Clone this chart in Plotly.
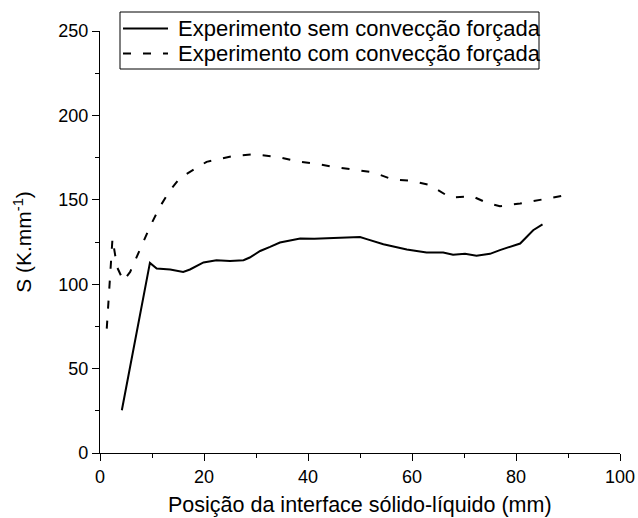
import plotly.graph_objects as go

# Data
x_sem = [4.2, 9.6, 10.9, 13.5, 16.0, 17.3, 19.9, 22.4, 25.0, 27.6, 28.8, 30.8, 32.7, 34.6,
         38.5, 41.2, 44.9, 50.0, 51.3, 54.5, 59.0, 62.8, 66.0, 67.9, 70.2, 72.4, 75.0,
         76.9, 80.8, 83.3, 85.1]
y_sem = [25.3, 112.6, 109.3, 108.7, 107.3, 108.7, 112.9, 114.2, 113.8, 114.2, 115.8, 119.7,
         122.1, 124.7, 127.1, 126.9, 127.4, 128.0, 126.7, 123.7, 120.6, 118.8, 118.8, 117.4,
         118.0, 116.8, 118.0, 120.2, 124.1, 132.0, 135.4]

x_com = [1.3, 2.4, 3.3, 4.5, 5.8, 7.7, 9.6, 11.5, 13.5, 15.4, 20.5, 25.6, 29.5, 34.0, 38.5,
         42.3, 44.9, 48.7, 52.6, 56.1, 59.9, 63.5, 67.3, 70.5, 71.5, 74.4, 76.9, 80.8, 85.3, 89.7]
y_com = [73.7, 127.0, 110.0, 102.0, 107.3, 121.0, 134.0, 145.8, 155.7, 163.0, 172.5, 175.9,
         176.9, 175.5, 172.5, 171.0, 169.5, 168.0, 166.2, 162.2, 161.2, 158.7, 151.4, 151.8,
         152.2, 148.2, 146.2, 147.8, 150.4, 152.8]

names = ["Experimento sem convecção forçada", "Experimento com convecção forçada"]
dashes = ["solid", "8px,12px"]
x_ticks = [0, 20, 40, 60, 80, 100]
y_ticks = [0, 50, 100, 150, 200, 250]
x_title = "Posição da interface sólido-líquido (mm)"
y_title = "S (K.mm<sup>-1</sup>)"

FONT = "Liberation Sans, Arial, sans-serif"
W, H = 638, 518
ML, MR, MT, MB = 100, 18, 31, 65
PW, PH = W - ML - MR, H - MT - MB


def px_x(p):
    return (p - ML) / PW


def px_y(p):
    return (H - MB - p) / PH


fig = go.Figure()
fig.add_trace(go.Scatter(x=x_sem, y=y_sem, mode="lines", name=names[0], showlegend=False,
                         line=dict(color="black", width=2, dash=dashes[0])))
fig.add_trace(go.Scatter(x=x_com, y=y_com, mode="lines", name=names[1], showlegend=False,
                         line=dict(color="black", width=2, dash=dashes[1])))

# Legend box (drawn manually to match the reference geometry)
fig.add_shape(type="rect", xref="paper", yref="paper",
              x0=px_x(120), x1=px_x(539), y0=px_y(69), y1=px_y(12),
              line=dict(color="black", width=1), fillcolor="white", layer="above")
row_y = [28.5, 53.5]
for name, dash, ry in zip(names, dashes, row_y):
    fig.add_shape(type="line", xref="paper", yref="paper",
                  x0=px_x(123), x1=px_x(168), y0=px_y(ry), y1=px_y(ry),
                  line=dict(color="black", width=2, dash=dash), layer="above")
    fig.add_annotation(xref="paper", yref="paper", x=px_x(176), y=px_y(ry),
                       xanchor="left", yanchor="middle", showarrow=False, text=name,
                       font=dict(family=FONT, size=22, color="black"))

# X axis title placed precisely
fig.add_annotation(xref="paper", yref="paper", x=0.5, y=px_y(505),
                   xanchor="center", yanchor="middle", showarrow=False, text=x_title,
                   font=dict(family=FONT, size=21.5, color="black"))

axis_common = dict(
    showgrid=False, zeroline=False, showline=True, linecolor="black", linewidth=1.3,
    ticks="outside", ticklen=7, tickwidth=1.3, tickcolor="black",
    tickfont=dict(family=FONT, size=18, color="black"),
    mirror=False, automargin=False,
)

fig.update_layout(
    width=W, height=H,
    margin=dict(l=ML, r=MR, t=MT, b=MB),
    paper_bgcolor="white", plot_bgcolor="white",
    font=dict(family=FONT, color="black"),
    showlegend=False,
    xaxis=dict(
        range=[0, 100], tickvals=x_ticks, ticktext=[str(v) for v in x_ticks],
        minor=dict(dtick=10, ticklen=4, tickwidth=1.3, tickcolor="black", ticks="outside"),
        **axis_common,
    ),
    yaxis=dict(
        range=[0, 250], tickvals=y_ticks, ticktext=[str(v) for v in y_ticks],
        minor=dict(dtick=25, ticklen=4, tickwidth=1.3, tickcolor="black", ticks="outside"),
        title=dict(text=y_title,
                   font=dict(family=FONT, size=21, color="black"), standoff=20),
        **axis_common,
    ),
)

fig.write_html("out.html")
